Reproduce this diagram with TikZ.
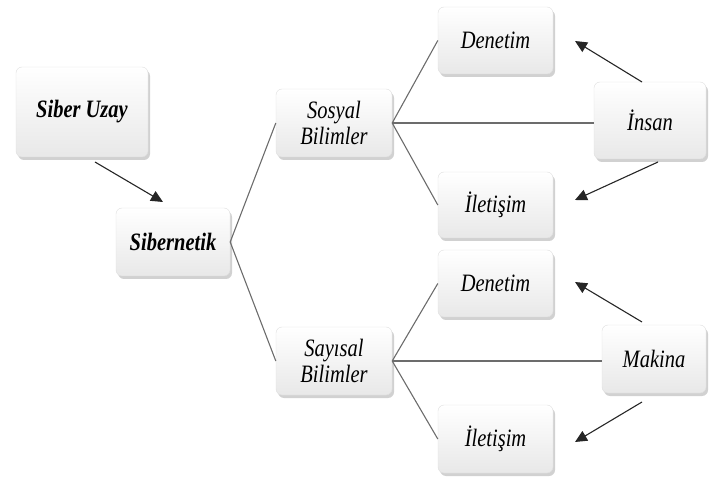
\documentclass[tikz,border=0pt]{standalone}
\usepackage{fontspec}
\setmainfont[FakeStretch=0.82]{Liberation Serif}
\usetikzlibrary{shadows,arrows.meta}
\begin{document}
\begin{tikzpicture}[x=1pt,y=-1pt,
  box/.style={rounded corners=6pt, top color=white, bottom color=gray!18,
    draw=gray!25, line width=0.4pt,
    drop shadow={shadow xshift=2pt, shadow yshift=-3pt, opacity=0.45, fill=gray!80},
    align=center, inner sep=2pt,
    font=\fontsize{25}{26}\selectfont\itshape},
  bbox/.style={box, font=\fontsize{25}{26}\selectfont\bfseries\itshape},
  link/.style={draw=gray!85!black, line width=1.1pt},
  arr/.style={draw=black!85, line width=1.1pt, -{Triangle[length=12pt,width=11pt]}}]
\useasboundingbox (0,0) rectangle (710,481);
\node[bbox, minimum width=132pt, minimum height=90pt] (siber) at (82,112) {Siber Uzay};
\node[bbox, minimum width=114pt, minimum height=68pt] (sibern) at (173,242) {Sibernetik};
\node[box, minimum width=116pt, minimum height=68pt] (sosyal) at (334,123) {Sosyal\\Bilimler};
\node[box, minimum width=116pt, minimum height=68pt] (sayisal) at (334,361) {Sayısal\\Bilimler};
\node[box, minimum width=115pt, minimum height=67pt] (den1) at (495.5,40.5) {Denetim};
\node[box, minimum width=115pt, minimum height=66pt] (ilet1) at (495.5,205) {İletişim};
\node[box, minimum width=115pt, minimum height=67pt] (den2) at (495.5,283.5) {Denetim};
\node[box, minimum width=115pt, minimum height=68pt] (ilet2) at (495.5,439) {İletişim};
\node[box, minimum width=112pt, minimum height=77pt] (insan) at (650,120.5) {İnsan};
\node[box, minimum width=104pt, minimum height=68pt] (makina) at (654,359) {Makina};
% tree links
\draw[link] (sibern.east) -- (sosyal.west);
\draw[link] (sibern.east) -- (sayisal.west);
\draw[link] (sosyal.east) -- (den1.west);
\draw[link] (sosyal.east) -- (ilet1.west);
\draw[link] (sosyal.east) -- (sosyal.east -| insan.west);
\draw[link] (sayisal.east) -- (den2.west);
\draw[link] (sayisal.east) -- (ilet2.west);
\draw[link] (sayisal.east) -- (sayisal.east -| makina.west);
% arrows
\coordinate (s1) at (95,162);  \coordinate (t1) at (163,202);
\coordinate (s2) at (642,82);  \coordinate (t2) at (575,41);
\coordinate (s3) at (658,162); \coordinate (t3) at (575,200);
\coordinate (s4) at (642,322); \coordinate (t4) at (575,282);
\coordinate (s5) at (642,402); \coordinate (t5) at (575,442);
\draw[arr] (s1) -- (t1);
\draw[arr] (s2) -- (t2);
\draw[arr] (s3) -- (t3);
\draw[arr] (s4) -- (t4);
\draw[arr] (s5) -- (t5);
\end{tikzpicture}
\end{document}
